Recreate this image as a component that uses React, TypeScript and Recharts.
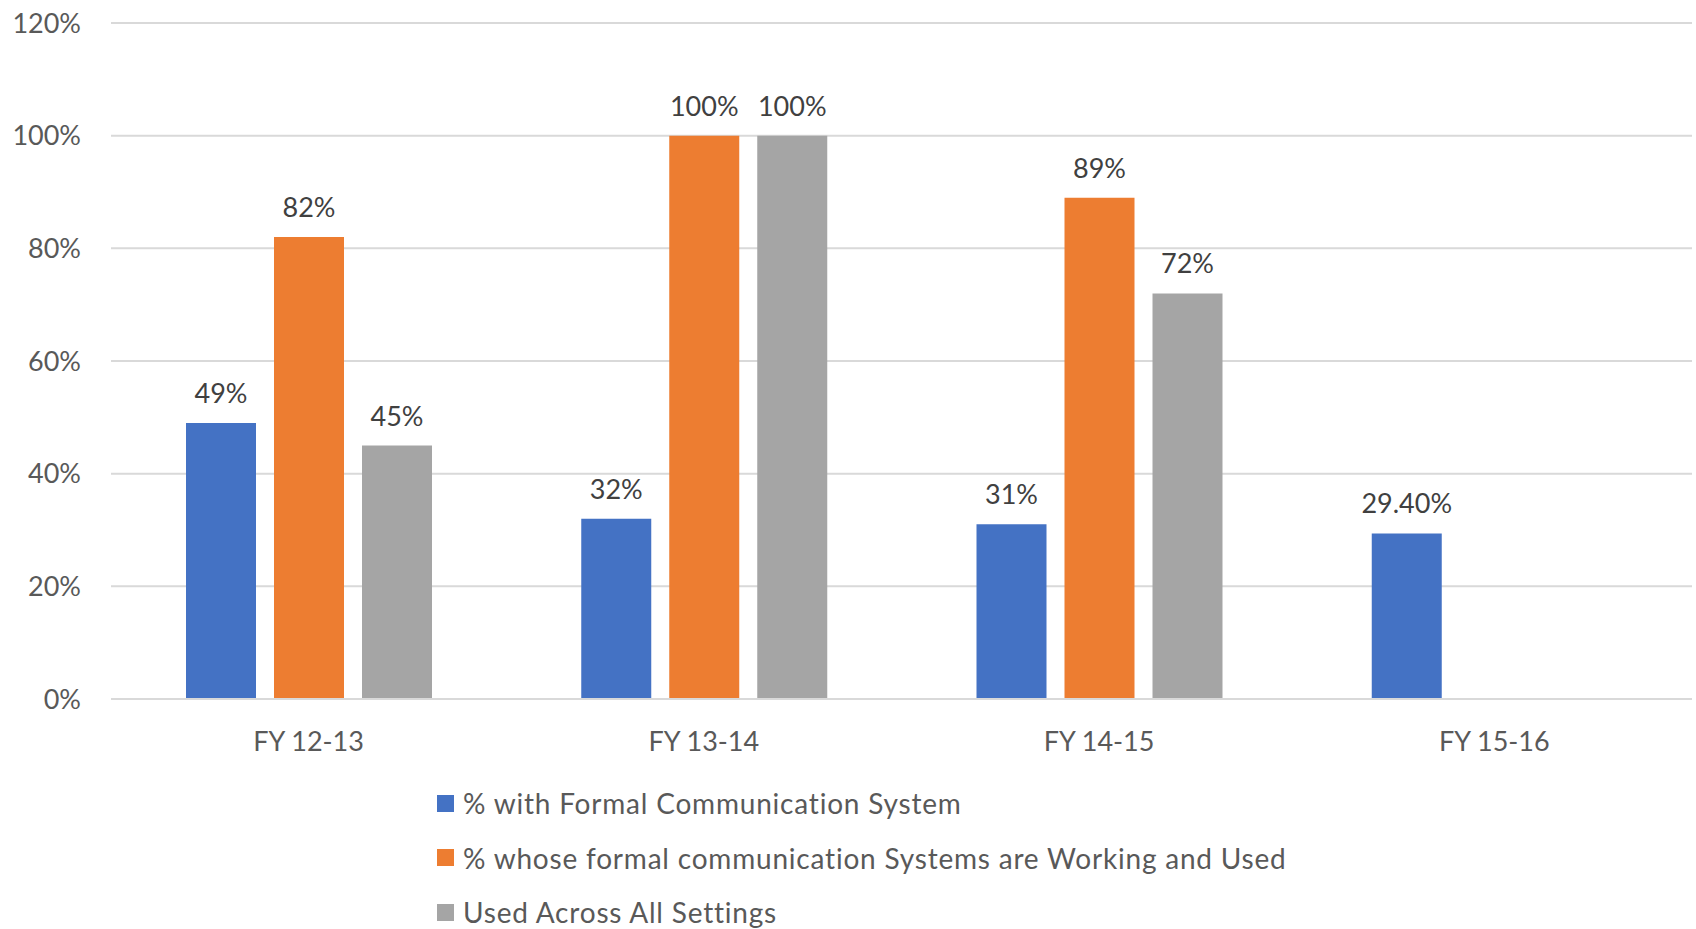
import { Bar, BarChart, CartesianGrid, LabelList, XAxis, YAxis } from 'recharts';

const categories = ['FY 12-13', 'FY 13-14', 'FY 14-15', 'FY 15-16'];
const formalSystem = [49, 32, 31, 29.4];
const workingAndUsed = [82, 100, 89, null];
const acrossSettings = [45, 100, 72, null];
const yTicks = [0, 20, 40, 60, 80, 100, 120];

const series = [
  { key: 'formal', name: '% with Formal Communication System', color: '#4472C4', values: formalSystem },
  {
    key: 'working',
    name: '% whose formal communication Systems are Working and Used',
    color: '#ED7D31',
    values: workingAndUsed,
  },
  { key: 'across', name: 'Used Across All Settings', color: '#A5A5A5', values: acrossSettings },
];

const data = categories.map((label, i) => {
  const row: Record<string, string | number | null> = { label };
  series.forEach((s) => {
    row[s.key] = s.values[i];
  });
  return row;
});

const FONT = 'Lato, "Open Sans", sans-serif';

// whole numbers print as "49%", the odd decimal one as "29.40%"
const pct = (v: unknown) => {
  if (v == null || v === '') return '';
  const n = Number(v);
  return Number.isInteger(n) ? `${n}%` : `${n.toFixed(2)}%`;
};

export default function App() {
  return (
    <div style={{ position: 'absolute', left: 0, top: 0, width: 1696, height: 929, background: '#fff', fontFamily: FONT }}>
      <BarChart
        width={1696}
        height={929}
        data={data}
        margin={{ top: 23, right: 4, bottom: 0, left: 0 }}
        barGap={18}
        barCategoryGap={75}
      >
        <CartesianGrid vertical={false} stroke="#D9D9D9" strokeWidth={2} />
        <XAxis
          dataKey="label"
          height={230}
          axisLine={{ stroke: '#D9D9D9', strokeWidth: 2 }}
          tickLine={false}
          tickSize={0}
          tickMargin={33}
          tick={{ fontSize: 27, fill: '#595959', fontFamily: FONT }}
        />
        <YAxis
          width={111}
          domain={[0, 120]}
          ticks={yTicks}
          tickFormatter={(v) => `${v}%`}
          axisLine={false}
          tickLine={false}
          tickSize={0}
          tickMargin={30}
          tick={{ fontSize: 27, fill: '#595959', fontFamily: FONT }}
        />
        {series.map((s) => (
          <Bar key={s.key} dataKey={s.key} name={s.name} fill={s.color} isAnimationActive={false}>
            <LabelList
              dataKey={s.key}
              position="top"
              offset={20}
              formatter={pct}
              style={{ fontSize: 27, fill: '#404040', fontFamily: FONT }}
            />
          </Bar>
        ))}
      </BarChart>
      <div style={{ position: 'absolute', left: 437, top: 776 }}>
        {series.map((s) => (
          <div key={s.key} style={{ display: 'flex', alignItems: 'center', height: 54.5 }}>
            <span style={{ width: 17, height: 17, background: s.color, marginRight: 9, flexShrink: 0 }} />
            <span style={{ fontSize: 28, letterSpacing: 0.8, color: '#595959', whiteSpace: 'nowrap' }}>{s.name}</span>
          </div>
        ))}
      </div>
    </div>
  );
}
